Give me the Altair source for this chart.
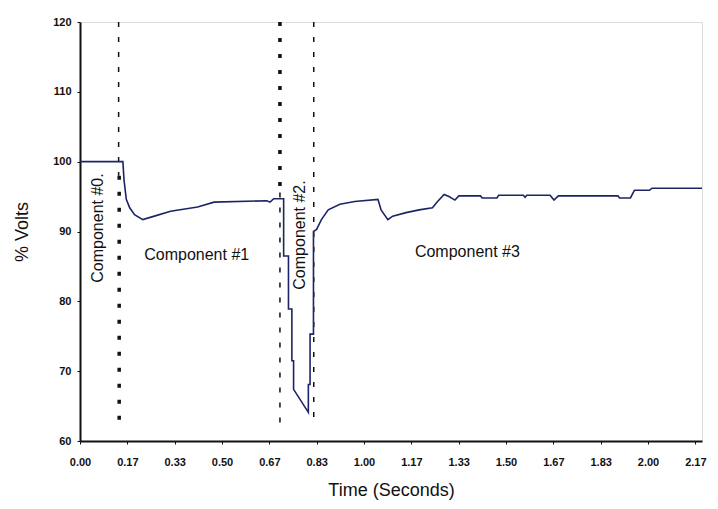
import altair as alt
import pandas as pd

# Voltage trace (time in seconds, % volts)
time_s = [0.000, 0.151, 0.155, 0.163, 0.175, 0.192, 0.221, 0.262, 0.319, 0.414,
          0.472, 0.658, 0.669, 0.682, 0.717, 0.717, 0.734, 0.734, 0.746, 0.746,
          0.752, 0.752, 0.804, 0.804, 0.810, 0.810, 0.822, 0.822, 0.833, 0.850,
          0.874, 0.915, 0.967, 1.049, 1.060, 1.084, 1.101, 1.148, 1.194, 1.241,
          1.259, 1.282, 1.299, 1.320, 1.334, 1.410, 1.416, 1.468, 1.474, 1.561,
          1.567, 1.573, 1.655, 1.669, 1.684, 1.894, 1.900, 1.938, 1.952, 2.005,
          2.014, 2.190]
volts = [100.0, 100.0, 97.4, 94.6, 93.4, 92.4, 91.7, 92.2, 92.9, 93.5,
         94.2, 94.4, 94.2, 94.7, 94.7, 86.5, 86.5, 78.9, 78.9, 71.5,
         71.5, 67.4, 64.1, 68.1, 68.1, 75.3, 75.3, 90.0, 90.3, 91.7,
         93.1, 93.9, 94.3, 94.6, 93.1, 91.7, 92.2, 92.7, 93.1, 93.4,
         94.3, 95.3, 95.0, 94.5, 95.1, 95.1, 94.8, 94.8, 95.2, 95.2,
         94.9, 95.2, 95.2, 94.5, 95.1, 95.1, 94.8, 94.8, 95.9, 95.9,
         96.2, 96.2]

# Component boundary markers
thin_t = [0.136, 0.704, 0.823]
thin_y1 = [120, 95.6, 120]
thin_y2 = [98, 62.2, 62.2]
thick_t = [0.138, 0.704]
thick_y1 = [98, 120]
thick_y2 = [62.2, 95.6]

# Annotations
lab_text = ["Component #0.", "Component #1", "Component #2.", "Component #3"]
lab_t = [0.064, 0.411, 0.774, 1.364]
lab_v = [90.5, 86.6, 89.5, 87.1]
lab_angle = [270, 0, 270, 0]

x_ticks = [k / 6 for k in range(14)]
y_ticks = [60, 70, 80, 90, 100, 110, 120]

trace = pd.DataFrame({"t": time_s, "v": volts, "order": list(range(len(time_s)))})
thin = pd.DataFrame({"t": thin_t, "y1": thin_y1, "y2": thin_y2})
thick = pd.DataFrame({"t": thick_t, "y1": thick_y1, "y2": thick_y2})
labels = pd.DataFrame({"text": lab_text, "t": lab_t, "v": lab_v, "angle": lab_angle})

xscale = alt.Scale(domain=[0, 2.190], nice=False, zero=False)
yscale = alt.Scale(domain=[60, 120], nice=False, zero=False)

xaxis = alt.Axis(title="Time (Seconds)", values=x_ticks, format=".2f", grid=False,
                 labelFlush=False, labelOverlap=False,
                 labelFont="Liberation Sans", labelFontSize=11, labelFontWeight="bold",
                 labelColor="#111", tickColor="#111", tickSize=3, labelPadding=12,
                 domainColor="#111", domainWidth=2,
                 titleFont="Liberation Sans", titleFontSize=18, titleFontWeight="normal",
                 titleColor="#111", titlePadding=14)
yaxis = alt.Axis(title="% Volts", values=y_ticks, format="d", grid=False,
                 labelFlush=False, labelOverlap=False,
                 labelFont="Liberation Sans", labelFontSize=11, labelFontWeight="bold",
                 labelColor="#111", tickColor="#111", tickSize=3, labelPadding=6,
                 domainColor="#111", domainWidth=2,
                 titleFont="Liberation Sans", titleFontSize=18, titleFontWeight="normal",
                 titleColor="#111", titlePadding=21)

line = alt.Chart(trace).mark_line(color="#1c2466", strokeWidth=1.6, interpolate="linear").encode(
    x=alt.X("t:Q", scale=xscale, axis=xaxis),
    y=alt.Y("v:Q", scale=yscale, axis=yaxis),
    order="order:Q",
)

thin_rules = alt.Chart(thin).mark_rule(color="#111", strokeWidth=1.5, strokeDash=[5, 10]).encode(
    x=alt.X("t:Q", scale=xscale), y=alt.Y("y1:Q", scale=yscale), y2="y2:Q"
)
thick_rules = alt.Chart(thick).mark_rule(color="#111", strokeWidth=3.5, strokeDash=[4, 12]).encode(
    x=alt.X("t:Q", scale=xscale), y=alt.Y("y1:Q", scale=yscale), y2="y2:Q"
)

text = alt.Chart(labels).mark_text(font="Liberation Sans", fontSize=16, color="#111",
                                   align="center", baseline="middle").encode(
    x=alt.X("t:Q", scale=xscale), y=alt.Y("v:Q", scale=yscale),
    text="text:N", angle=alt.Angle("angle:Q", scale=None)
)

chart = alt.layer(thin_rules, thick_rules, line, text).properties(
    width=622, height=419,
    autosize=alt.AutoSizeParams(type="none"),
    padding={"left": 72, "top": 14, "right": 8, "bottom": 60},
).configure_view(stroke="#888", strokeWidth=1.5).configure(background="white")

chart.save("out.html", embed_options={"renderer": "svg", "actions": False})
